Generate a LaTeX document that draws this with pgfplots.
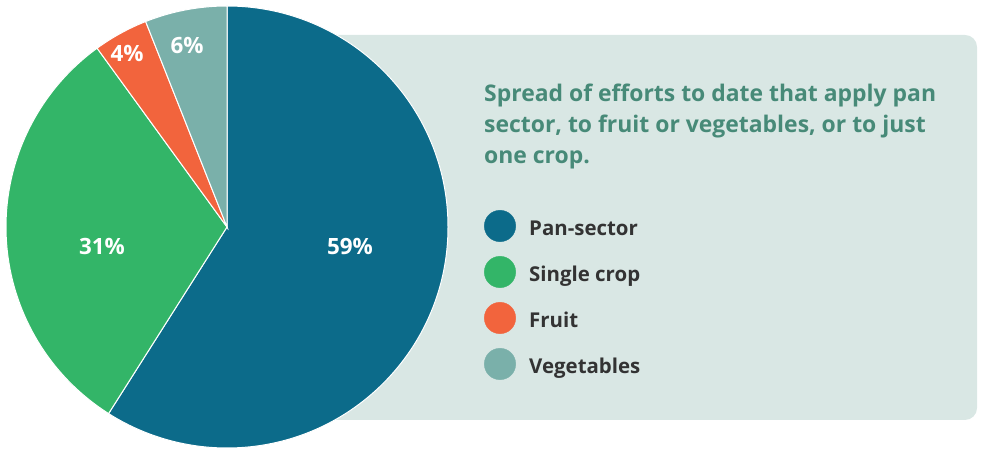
\documentclass[border=0pt]{standalone}
\usepackage{pgfplots}
\usepackage{pgfplotstable}
\pgfplotsset{compat=1.18}
\usepackage{fontspec}
\setmainfont{Open Sans}
\definecolor{pan}{HTML}{0C6B8A}
\definecolor{single}{HTML}{33B568}
\definecolor{fruit}{HTML}{F2643D}
\definecolor{veg}{HTML}{7AB0AA}
\definecolor{bg}{HTML}{D9E7E4}
\definecolor{ttl}{HTML}{478A78}
\definecolor{txt}{HTML}{333333}
\pgfplotstableread{
label value
Pan-sector 59
Single 31
Fruit 4
Vegetables 6
}\piedata
\pgfplotstablegetelem{0}{value}\of\piedata \let\va\pgfplotsretval
\pgfplotstablegetelem{1}{value}\of\piedata \let\vb\pgfplotsretval
\pgfplotstablegetelem{2}{value}\of\piedata \let\vc\pgfplotsretval
\pgfplotstablegetelem{3}{value}\of\piedata \let\vd\pgfplotsretval
\pgfmathsetmacro\aA{90-3.6*\va}
\pgfmathsetmacro\aB{\aA-3.6*\vb}
\pgfmathsetmacro\aC{\aB-3.6*\vc}
\pgfmathsetmacro\aD{\aC-3.6*\vd}
\begin{document}
\begin{tikzpicture}
\begin{axis}[x=1bp,y=1bp,xmin=0,xmax=981,ymin=0,ymax=449,hide axis,clip=false,
  scale only axis]
\path (axis cs:0,0) (axis cs:981,449);
\fill[bg, rounded corners=12bp] (axis cs:227,29) rectangle (axis cs:977,414);
% slices
\fill[pan, draw=white, line width=1bp] (axis cs:227,222) -- (axis cs:227,443)
  arc[start angle=90, end angle=\aA, radius=221bp] -- cycle;
\fill[single, draw=white, line width=1bp] (axis cs:227,222) -- (axis cs:{227+221*cos(\aA)},{222+221*sin(\aA)})
  arc[start angle=\aA, end angle=\aB, radius=221bp] -- cycle;
\fill[fruit, draw=white, line width=1bp] (axis cs:227,222) -- (axis cs:{227+221*cos(\aB)},{222+221*sin(\aB)})
  arc[start angle=\aB, end angle=\aC, radius=221bp] -- cycle;
\fill[veg, draw=white, line width=1bp] (axis cs:227,222) -- (axis cs:{227+221*cos(\aC)},{222+221*sin(\aC)})
  arc[start angle=\aC, end angle=\aD, radius=221bp] -- cycle;
% slice labels
\node[anchor=base, text=white, font=\fontsize{22.5}{26}\selectfont\bfseries] at (axis cs:350,194) {\va\%};
\node[anchor=base, text=white, font=\fontsize{22.5}{26}\selectfont\bfseries] at (axis cs:102,194) {\vb\%};
\node[anchor=base, text=white, font=\fontsize{22.5}{26}\selectfont\bfseries] at (axis cs:127,387) {\vc\%};
\node[anchor=base, text=white, font=\fontsize{22.5}{26}\selectfont\bfseries] at (axis cs:187,395) {\vd\%};
% title
\node[anchor=base west, inner sep=0pt, align=left, text=ttl, font=\fontsize{23}{31.2}\selectfont\bfseries]
  at (axis cs:484,285) {Spread of efforts to date that apply pan\\sector, to fruit or vegetables, or to just\\one crop.};
% legend
\addplot[only marks, mark=*, color=pan, mark size=15.7bp, mark options={draw=none, fill=pan}] coordinates {(500,223)};
\addplot[only marks, mark=*, color=single, mark size=15.7bp, mark options={draw=none, fill=single}] coordinates {(500,177)};
\addplot[only marks, mark=*, color=fruit, mark size=15.7bp, mark options={draw=none, fill=fruit}] coordinates {(500,131)};
\addplot[only marks, mark=*, color=veg, mark size=15.7bp, mark options={draw=none, fill=veg}] coordinates {(500,85)};
\node[anchor=base west, inner sep=0pt, text=txt, font=\fontsize{20.5}{24}\selectfont\bfseries] at (axis cs:529,213) {Pan-sector};
\node[anchor=base west, inner sep=0pt, text=txt, font=\fontsize{20.5}{24}\selectfont\bfseries] at (axis cs:529,167) {Single crop};
\node[anchor=base west, inner sep=0pt, text=txt, font=\fontsize{20.5}{24}\selectfont\bfseries] at (axis cs:529,121) {Fruit};
\node[anchor=base west, inner sep=0pt, text=txt, font=\fontsize{20.5}{24}\selectfont\bfseries] at (axis cs:529,75) {Vegetables};
\end{axis}
\end{tikzpicture}
\end{document}
